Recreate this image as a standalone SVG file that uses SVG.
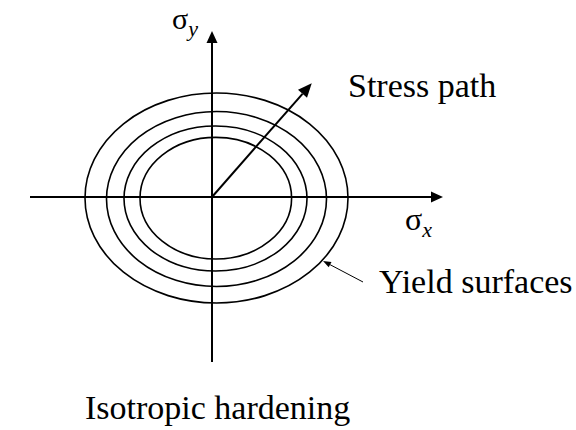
<svg xmlns="http://www.w3.org/2000/svg" width="576" height="430" viewBox="0 0 576 430">
<style>
.ax{stroke:#000;stroke-width:2;fill:none}
.ys{stroke:#000;stroke-width:1.6;fill:none}
.t{font-family:"Liberation Serif","Times New Roman",serif;fill:#000}
</style>
<defs>
<marker id="ah" markerUnits="userSpaceOnUse" markerWidth="12" markerHeight="11" refX="0" refY="5.5" orient="auto" overflow="visible">
<path d="M0,0 L12,5.5 L0,11 Z" fill="#000"/>
</marker>
<marker id="ahs" markerUnits="userSpaceOnUse" markerWidth="14" markerHeight="12" refX="0" refY="6" orient="auto" overflow="visible">
<path d="M0,0 L14,6 L0,12 Z" fill="#000"/>
</marker>
<marker id="ahl" markerUnits="userSpaceOnUse" markerWidth="8" markerHeight="6" refX="0" refY="3" orient="auto" overflow="visible">
<path d="M0,0 L8,3 L0,6 Z" fill="#000"/>
</marker>
</defs>
<rect width="576" height="430" fill="#fff"/>
<g id="yield-surfaces">
<ellipse class="ys" cx="216.5" cy="198" rx="131.5" ry="105"/>
<ellipse class="ys" cx="216.5" cy="199" rx="110" ry="87.5"/>
<ellipse class="ys" cx="215.5" cy="198.5" rx="91.5" ry="72.5"/>
<ellipse class="ys" cx="215.8" cy="198.2" rx="75.8" ry="60.8"/>
</g>
<g id="connectors">
<line class="ax" x1="212" y1="362" x2="212" y2="43" marker-end="url(#ah)"/>
<line class="ax" x1="30" y1="197" x2="431" y2="197" marker-end="url(#ah)"/>
<line class="ax" stroke-width="2.5" x1="212" y1="197" x2="302.5" y2="93.8" marker-end="url(#ahs)"/>
<line stroke="#000" stroke-width="1" x1="363" y1="282" x2="330.1" y2="264.7" marker-end="url(#ahl)"/>
</g>
<g id="labels">
<text class="t" x="172" y="29" font-size="30">σ<tspan font-size="22" font-style="italic" dy="7">y</tspan></text>
<text class="t" x="405" y="230" font-size="32">σ<tspan font-size="22" font-style="italic" dy="7">x</tspan></text>
<text class="t" x="348" y="97" font-size="34">Stress path</text>
<text class="t" x="379" y="293" font-size="34">Yield surfaces</text>
<text class="t" x="85" y="419" font-size="34">Isotropic hardening</text>
</g>
</svg>
